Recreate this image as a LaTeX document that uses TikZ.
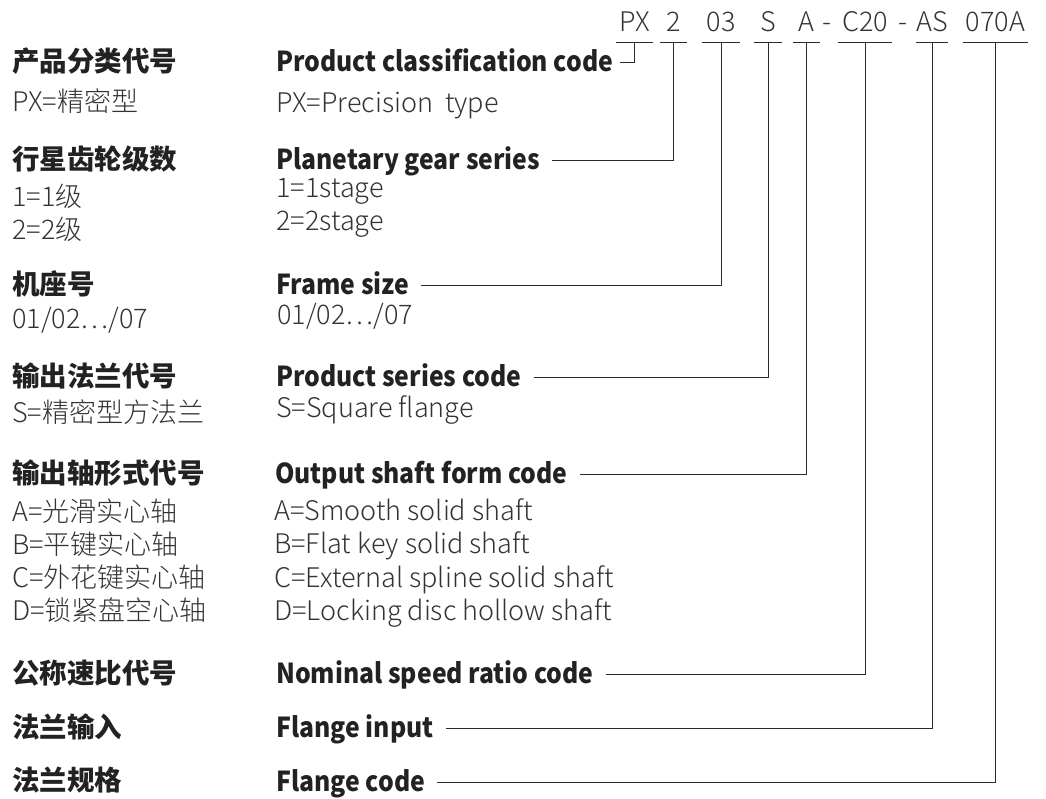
\documentclass[tikz,border=0pt]{standalone}
\usepackage{fontspec}
\setmainfont{Noto Sans CJK SC}
\IfFontExistsTF{Noto Sans CJK SC Light}
  {\newfontfamily\thinfont{Noto Sans CJK SC Light}}
  {\newfontfamily\thinfont{Noto Sans CJK SC}}
\newfontfamily\narrowfont{Noto Sans CJK SC}[FakeStretch=0.9]
\usetikzlibrary{positioning}

\definecolor{txtgray}{HTML}{333333}
\definecolor{headgray}{HTML}{222222}
\definecolor{linegray}{HTML}{2A2A2A}

\tikzset{
  head/.style={anchor=base west, font=\fontsize{27.5}{27.5}\selectfont\bfseries, text=headgray,
    inner sep=0pt, text height=18pt, text depth=0pt},
  enhead/.style={head, font=\narrowfont\fontsize{27.5}{27.5}\selectfont\bfseries},
  sub/.style={anchor=base west, font=\thinfont\fontsize{27}{27}\selectfont, text=txtgray, inner sep=0pt},
  codepart/.style={anchor=base, font=\thinfont\fontsize{27}{27}\selectfont, text=txtgray,
    inner sep=0pt, text depth=10pt},
  link/.style={draw=linegray, line width=1pt}
}

\begin{document}
\begin{tikzpicture}[x=1pt, y=-1pt]
\useasboundingbox (0,0) rectangle (1046,799);

% model code
\node[codepart, minimum width=37pt] (cPX)     at (634.5,32) {PX};
\node[codepart, minimum width=27pt] (cStage)  at (673.5,32) {2};
\node[codepart, minimum width=38pt] (cFrame)  at (721,32)   {03};
\node[codepart, minimum width=28pt] (cFlange) at (768,32)   {S};
\node[codepart, minimum width=27pt] (cShaft)  at (806.5,32) {A};
\node[codepart] (dash1) at (827,32) {-};
\node[codepart, minimum width=54pt] (cRatio)  at (865,32)   {C20};
\node[codepart] (dash2) at (903,32) {-};
\node[codepart, minimum width=32pt] (cInput)  at (932,32)   {AS};
\node[codepart, minimum width=65pt] (cSize)   at (995.5,32) {070A};

\foreach \c in {cPX,cStage,cFrame,cFlange,cShaft,cRatio,cInput,cSize}
  \draw[link] (\c.south west) -- (\c.south east);

% chinese column
\node[head] (zPX)     at (12,72)  {产品分类代号};
\node[sub]  (zPXa)    at (12,112) {PX=精密型};
\node[head] (zStage)  at (12,170) {行星齿轮级数};
\node[sub]  (zStagea) at (12,207) {1=1级};
\node[sub]  (zStageb) at (12,240) {2=2级};
\node[head] (zFrame)  at (12,295) {机座号};
\node[sub]  (zFramea) at (12,328) {01/02…/07};
\node[head] (zFlange) at (12,386) {输出法兰代号};
\node[sub]  (zFlangea) at (12,422) {S=精密型方法兰};
\node[head] (zShaft)  at (12,483) {输出轴形式代号};
\node[sub]  (zShafta) at (12,521) {A=光滑实心轴};
\node[sub]  (zShaftb) at (12,554) {B=平键实心轴};
\node[sub]  (zShaftc) at (12,587) {C=外花键实心轴};
\node[sub]  (zShaftd) at (12,620) {D=锁紧盘空心轴};
\node[head] (zRatio)  at (12,683) {公称速比代号};
\node[head] (zInput)  at (12,737) {法兰输入};
\node[head] (zSize)   at (12,790) {法兰规格};

% english column
\node[enhead] (hPX)     at (276,72)  {Product classification code};
\node[sub]    (hPXa)    at (276,113) {PX=Precision\ \ type};
\node[enhead] (hStage)  at (276,170) {Planetary gear series};
\node[sub]    (hStagea) at (276,198) {1=1stage};
\node[sub]    (hStageb) at (276,231) {2=2stage};
\node[enhead] (hFrame)  at (276,295) {Frame size};
\node[sub]    (hFramea) at (277,325) {01/02…/07};
\node[enhead] (hFlange) at (276,386) {Product series code};
\node[sub]    (hFlangea) at (276,417) {S=Square flange};
\node[enhead] (hShaft)  at (275,483) {Output shaft form code};
\node[sub]    (hShafta) at (274,520) {A=Smooth solid shaft};
\node[sub]    (hShaftb) at (274,553) {B=Flat key solid shaft};
\node[sub]    (hShaftc) at (274,587) {C=External spline solid shaft};
\node[sub]    (hShaftd) at (274,620) {D=Locking disc hollow shaft};
\node[enhead] (hRatio)  at (276,683) {Nominal speed ratio code};
\node[enhead] (hInput)  at (276,737) {Flange input};
\node[enhead] (hSize)   at (276,791) {Flange code};

% connectors
\draw[link, shorten >=7pt] (cPX.south) |- (hPX.east);
\foreach \c/\h in {cStage/hStage, cFrame/hFrame, cFlange/hFlange, cShaft/hShaft,
                   cRatio/hRatio, cInput/hInput, cSize/hSize}
  \draw[link, shorten >=12pt] (\c.south) |- (\h.east);
\end{tikzpicture}
\end{document}
